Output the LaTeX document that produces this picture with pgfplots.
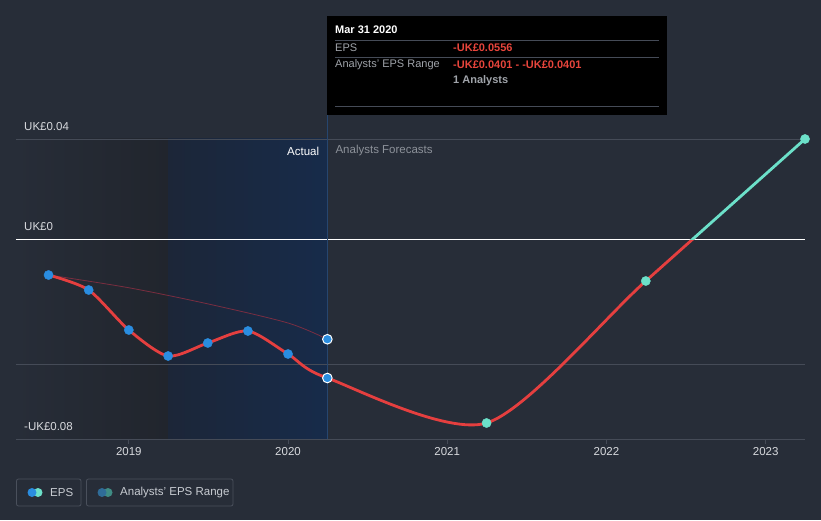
\documentclass[border=0pt]{standalone}
\usepackage{pgfplots}
\pgfplotsset{compat=1.18}
\usepackage{fontspec}
\setmainfont{Liberation Sans}
\definecolor{bgc}{HTML}{272D38}
\definecolor{gridc}{HTML}{454B57}
\definecolor{epsred}{HTML}{E53F3F}
\definecolor{epsteal}{HTML}{6CE0C9}
\definecolor{epsblue}{HTML}{2A8DE0}
\definecolor{ticklbl}{HTML}{D8DADE}
\definecolor{darkL}{HTML}{272D38}
\definecolor{darkR}{HTML}{21252D}
\definecolor{blueL}{HTML}{1C2638}
\definecolor{blueR}{HTML}{172B4A}
\definecolor{vline}{HTML}{26466F}
\definecolor{fcgray}{HTML}{8D929A}
\definecolor{ttgray}{HTML}{A0A4AA}
\definecolor{ttred}{HTML}{E8453C}
\definecolor{rangeline}{HTML}{8A2F42}
\definecolor{legborder}{HTML}{4A505C}
\definecolor{legtxt}{HTML}{C8CCD2}
\definecolor{legblue2}{HTML}{2F6C98}
\definecolor{legteal2}{HTML}{3F8C84}
\begin{document}
\begin{tikzpicture}
\fill[bgc] (0pt,0pt) rectangle (821pt,520pt);
\begin{axis}[
  at={(16pt,81pt)}, anchor=south west,
  scale only axis, width=789pt, height=300pt,
  xmin=2018.2915, xmax=2023.247, ymin=-0.08, ymax=0.04,
  axis line style={draw=none},
  ytick=\empty,
  xtick={2019,2020,2021,2022,2023},
  xtick pos=bottom,
  tick align=outside, major tick length=5pt,
  x tick style={draw=gridc, line width=0.8pt},
  /pgf/number format/assume math mode=true,
  xticklabel style={/pgf/number format/1000 sep={}, text=ticklbl, font=\fontsize{11.5}{13}\selectfont},
  clip=false,
]
% shaded regions
\fill[left color=darkL, right color=darkR] (axis cs:2018.2915,-0.08) rectangle (axis cs:2019.247,0.04);
\fill[left color=blueL, right color=blueR] (axis cs:2019.247,-0.08) rectangle (axis cs:2020.247,0.04);
% grid lines
\draw[gridc, line width=0.9pt] (axis cs:2018.2915,0.04) -- (axis cs:2023.247,0.04);
\draw[gridc, line width=0.9pt] (axis cs:2018.2915,-0.05) -- (axis cs:2023.247,-0.05);
\draw[gridc, line width=0.9pt] (axis cs:2018.2915,-0.08) -- (axis cs:2023.247,-0.08);
\draw[white, line width=1pt] (axis cs:2018.2915,0) -- (axis cs:2023.247,0);
% present line
\draw[vline, line width=0.8pt] (axis cs:2020.247,-0.08) -- (axis cs:2020.247,0.0496);
% y labels
\node[anchor=west, inner sep=0pt, text=ticklbl, font=\fontsize{11.5}{13}\selectfont] at (axis cs:2018.2915,0.04) [xshift=8pt, yshift=12pt] {UK£0.04};
\node[anchor=west, inner sep=0pt, text=ticklbl, font=\fontsize{11.5}{13}\selectfont] at (axis cs:2018.2915,0) [xshift=8pt, yshift=12pt] {UK£0};
\node[anchor=west, inner sep=0pt, text=ticklbl, font=\fontsize{11.5}{13}\selectfont] at (axis cs:2018.2915,-0.08) [xshift=8pt, yshift=12pt] {-UK£0.08};
% actual / forecast labels
\node[anchor=east, inner sep=0pt, text=white, font=\fontsize{11.5}{13}\selectfont] at (axis cs:2020.247,0.0352) [xshift=-8pt] {Actual};
\node[anchor=west, inner sep=0pt, text=fcgray, font=\fontsize{11.5}{13}\selectfont] at (axis cs:2020.247,0.0352) [xshift=8pt] {Analysts Forecasts};
% analysts' past estimate range line
\addplot[rangeline, line width=0.8pt, smooth, opacity=0.85] coordinates {
  (2018.496,-0.0144) (2019.0,-0.0195) (2019.5,-0.0260) (2020.0,-0.0336) (2020.247,-0.0401)};
% EPS line (red below zero, teal above)
\begin{scope}
\clip (axis cs:2018.2915,-0.085) rectangle (axis cs:2023.27,0);
\addplot[epsred, line width=2.8pt, smooth, tension=0.45] coordinates {
  (2018.496,-0.0144) (2018.748,-0.0204) (2019.0,-0.0364) (2019.247,-0.0468)
  (2019.496,-0.0416) (2019.748,-0.0368) (2020.0,-0.0460) (2020.247,-0.0556)
  (2021.247,-0.0736) (2022.247,-0.0168) (2023.247,0.0400)};
\end{scope}
\begin{scope}
\clip (axis cs:2018.2915,0) rectangle (axis cs:2023.27,0.045);
\addplot[epsteal, line width=2.8pt, smooth, tension=0.45] coordinates {
  (2018.496,-0.0144) (2018.748,-0.0204) (2019.0,-0.0364) (2019.247,-0.0468)
  (2019.496,-0.0416) (2019.748,-0.0368) (2020.0,-0.0460) (2020.247,-0.0556)
  (2021.247,-0.0736) (2022.247,-0.0168) (2023.247,0.0400)};
\end{scope}
% markers
\addplot[only marks, mark=*, mark size=4.6pt, mark options={draw=epsblue, fill=epsblue}] coordinates {
  (2018.496,-0.0144) (2018.748,-0.0204) (2019.0,-0.0364) (2019.247,-0.0468)
  (2019.496,-0.0416) (2019.748,-0.0368) (2020.0,-0.0460)};
\addplot[only marks, mark=*, mark size=4.8pt, mark options={draw=white, fill=epsblue, line width=1pt}] coordinates {
  (2020.247,-0.0556) (2020.247,-0.0401)};
\addplot[only marks, mark=*, mark size=4.6pt, mark options={draw=epsteal, fill=epsteal}] coordinates {
  (2021.247,-0.0736) (2022.247,-0.0168) (2023.247,0.0400)};
\end{axis}
% tooltip
\fill[black] (327pt,405pt) rectangle (667pt,504pt);
\draw[gridc, line width=0.8pt] (335pt,480pt) -- (659pt,480pt);
\draw[gridc, line width=0.8pt] (335pt,463pt) -- (659pt,463pt);
\draw[gridc, line width=0.8pt] (335pt,413.5pt) -- (659pt,413.5pt);
\node[anchor=west, inner sep=0pt, text=white, font=\fontsize{11}{13}\selectfont\bfseries] at (335pt,490pt) {Mar 31 2020};
\node[anchor=west, inner sep=0pt, text=ttgray, font=\fontsize{11}{13}\selectfont] at (335pt,472pt) {EPS};
\node[anchor=west, inner sep=0pt, text=ttred, font=\fontsize{11}{13}\selectfont\bfseries] at (453pt,472pt) {-UK£0.0556};
\node[anchor=west, inner sep=0pt, text=ttgray, font=\fontsize{11}{13}\selectfont] at (335pt,455pt) {Analysts' EPS Range};
\node[anchor=west, inner sep=0pt, text=ttred, font=\fontsize{11}{13}\selectfont\bfseries] at (453pt,455pt) {-UK£0.0401 - -UK£0.0401};
\node[anchor=west, inner sep=0pt, text=ttgray, font=\fontsize{11}{13}\selectfont\bfseries] at (453pt,439pt) {1 Analysts};
% legend
\draw[legborder, line width=0.8pt, rounded corners=2pt] (16.5pt,14pt) rectangle (81pt,41pt);
\draw[legborder, line width=0.8pt, rounded corners=2pt] (86.5pt,14pt) rectangle (233pt,41pt);
\fill[epsteal] (38pt,27.5pt) circle (4.5pt);
\fill[epsblue] (32pt,27.5pt) circle (4.5pt);
\node[anchor=west, inner sep=0pt, text=legtxt, font=\fontsize{11.5}{13}\selectfont] at (50pt,27.5pt) {EPS};
\fill[legteal2] (108pt,27.5pt) circle (4.5pt);
\fill[legblue2] (102pt,27.5pt) circle (4.5pt);
\node[anchor=west, inner sep=0pt, text=legtxt, font=\fontsize{11.5}{13}\selectfont] at (120pt,27.5pt) {Analysts' EPS Range};
\pgfresetboundingbox
\path (0pt,0pt) rectangle (821pt,520pt);
\end{tikzpicture}
\end{document}
